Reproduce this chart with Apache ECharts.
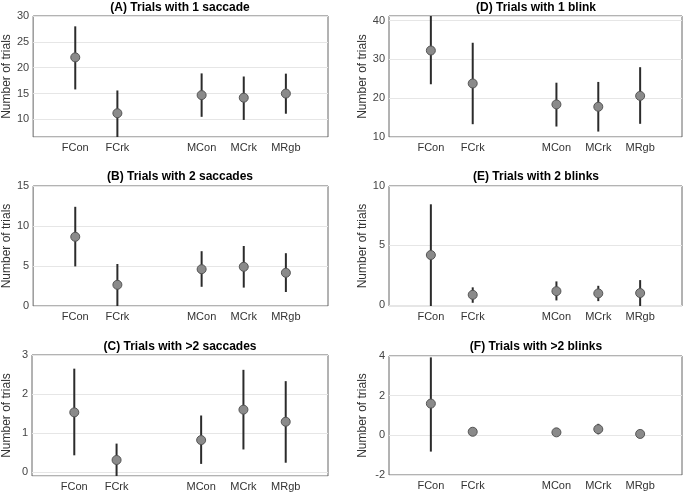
<!DOCTYPE html>
<html>
<head>
<meta charset="utf-8">
<script src="https://cdn.jsdelivr.net/npm/echarts@6/dist/echarts.min.js"></script>
<style>
html,body{margin:0;padding:0;background:#fff;}
#chart{width:685px;height:495px;}
</style>
</head>
<body>
<div id="chart"></div>
<script>
// Axis categories (underscored entries are empty gap slots)
const axisCategories = ['_a', 'FCon', 'FCrk', '_b', 'MCon', 'MCrk', 'MRgb', '_c'];
const groups = ['FCon', 'FCrk', 'MCon', 'MCrk', 'MRgb'];

const titles = ['(A) Trials with 1 saccade', '(B) Trials with 2 saccades', '(C) Trials with >2 saccades',
                '(D) Trials with 1 blink', '(E) Trials with 2 blinks', '(F) Trials with >2 blinks'];

// (A) 1 saccade
const aMean = [22.0, 11.2, 14.7, 14.2, 15.0];
const aLow  = [15.8, 6.5, 10.5, 9.9, 11.1];
const aHigh = [28.0, 15.6, 18.9, 18.3, 18.85];
// (B) 2 saccades
const bMean = [8.65, 2.65, 4.6, 4.9, 4.15];
const bLow  = [4.95, 0.0, 2.4, 2.3, 1.75];
const bHigh = [12.4, 5.25, 6.85, 7.5, 6.6];
// (C) >2 saccades
const cMean = [1.53, 0.31, 0.82, 1.6, 1.29];
const cLow  = [0.43, -0.1, 0.21, 0.58, 0.24];
const cHigh = [2.65, 0.73, 1.45, 2.62, 2.33];
// (D) 1 blink
const dMean = [32.3, 23.8, 18.4, 17.8, 20.6];
const dLow  = [23.6, 13.3, 12.7, 11.4, 13.4];
const dHigh = [41.2, 34.3, 24.0, 24.2, 28.0];
// (E) 2 blinks
const eMean = [4.19, 0.84, 1.15, 0.96, 0.99];
const eLow  = [-0.1, 0.17, 0.37, 0.31, -0.1];
const eHigh = [8.46, 1.47, 1.97, 1.6, 2.08];
// (F) >2 blinks
const fMean = [1.6, 0.18, 0.15, 0.31, 0.07];
const fLow  = [-0.82, 0.02, 0.02, 0.05, -0.05];
const fHigh = [3.93, 0.35, 0.3, 0.58, 0.2];

const panelData = [
  [aMean, aLow, aHigh], [bMean, bLow, bHigh], [cMean, cLow, cHigh],
  [dMean, dLow, dHigh], [eMean, eLow, eHigh], [fMean, fLow, fHigh]
];
// y-axis ranges
const yRanges = [
  {min: 6.6, max: 30, splitNumber: 5, showMin: false, showMax: true},
  {min: 0, max: 15, interval: 5, showMin: true, showMax: true},
  {min: -0.1, max: 3, splitNumber: 3, showMin: false, showMax: true},
  {min: 10, max: 41.2, interval: 10, showMin: true, showMax: false},
  {min: -0.1, max: 10, splitNumber: 2, showMin: false, showMax: true},
  {min: -2, max: 4, interval: 2, showMin: true, showMax: true}
];

const gridBoxes = [
  {left: 32, top: 16, width: 296, height: 121},
  {left: 32, top: 186, width: 296, height: 120},
  {left: 32, top: 355, width: 296, height: 121},
  {left: 389, top: 16, width: 294, height: 121},
  {left: 389, top: 186, width: 294, height: 120},
  {left: 389, top: 356, width: 294, height: 119}
];
const titleTops = [2, 171, 341, 2, 171, 341];

const FONT = 'Liberation Sans, Arial, sans-serif';
const option = {
  backgroundColor: '#fff',
  animation: false,
  title: [], grid: [], xAxis: [], yAxis: [], series: []
};

for (let i = 0; i < 6; i++) {
  const g = gridBoxes[i];
  const [mean, low, high] = panelData[i];
  const r = yRanges[i];
  option.title.push({
    text: titles[i], left: g.left + g.width / 2, top: titleTops[i], textAlign: 'center', padding: 0,
    textStyle: {fontFamily: FONT, fontSize: 12, fontWeight: 'bold', color: '#000'}
  });
  option.grid.push(Object.assign({show: true, borderColor: '#666', borderWidth: 1, backgroundColor: '#fff', containLabel: false}, g));
  option.xAxis.push({
    type: 'category', gridIndex: i, data: axisCategories, boundaryGap: false,
    axisLine: {show: false}, axisTick: {show: false}, splitLine: {show: false},
    axisLabel: {interval: 0, margin: 5, fontFamily: FONT, fontSize: 11, color: '#333',
      formatter: v => v.charAt(0) === '_' ? '' : v}
  });
  const y = {
    type: 'value', gridIndex: i, min: r.min, max: r.max,
    name: 'Number of trials', nameLocation: 'middle', nameRotate: 90, nameGap: i < 3 ? 19 : 20,
    nameTextStyle: {fontFamily: FONT, fontSize: 12, color: '#333'},
    axisLine: {show: false}, axisTick: {show: false},
    splitLine: {show: true, lineStyle: {color: '#e6e6e6', width: 1}},
    axisLabel: {margin: 4, fontFamily: FONT, fontSize: 11, color: '#444',
      showMinLabel: r.showMin, showMaxLabel: r.showMax}
  };
  if (r.interval) y.interval = r.interval; else y.splitNumber = r.splitNumber;
  option.yAxis.push(y);

  const errData = groups.map((c, k) => [c, low[k], high[k]]);
  option.series.push({
    type: 'custom', xAxisIndex: i, yAxisIndex: i, clip: true, z: 2,
    data: errData,
    renderItem: function (params, api) {
      const p1 = api.coord([api.value(0), api.value(1)]);
      const p2 = api.coord([api.value(0), api.value(2)]);
      return {type: 'line', shape: {x1: p1[0], y1: p1[1], x2: p2[0], y2: p2[1]},
        style: {stroke: '#2b2b2b', lineWidth: 2}};
    }
  });
  option.series.push({
    type: 'scatter', xAxisIndex: i, yAxisIndex: i, z: 3,
    symbol: 'circle', symbolSize: 9,
    itemStyle: {color: '#8a8a8a', borderColor: '#555', borderWidth: 1, opacity: 1},
    data: groups.map((c, k) => [c, mean[k]])
  });
}

const chart = echarts.init(document.getElementById('chart'), null, {renderer: 'canvas'});
chart.setOption(option);
</script>
</body>
</html>
